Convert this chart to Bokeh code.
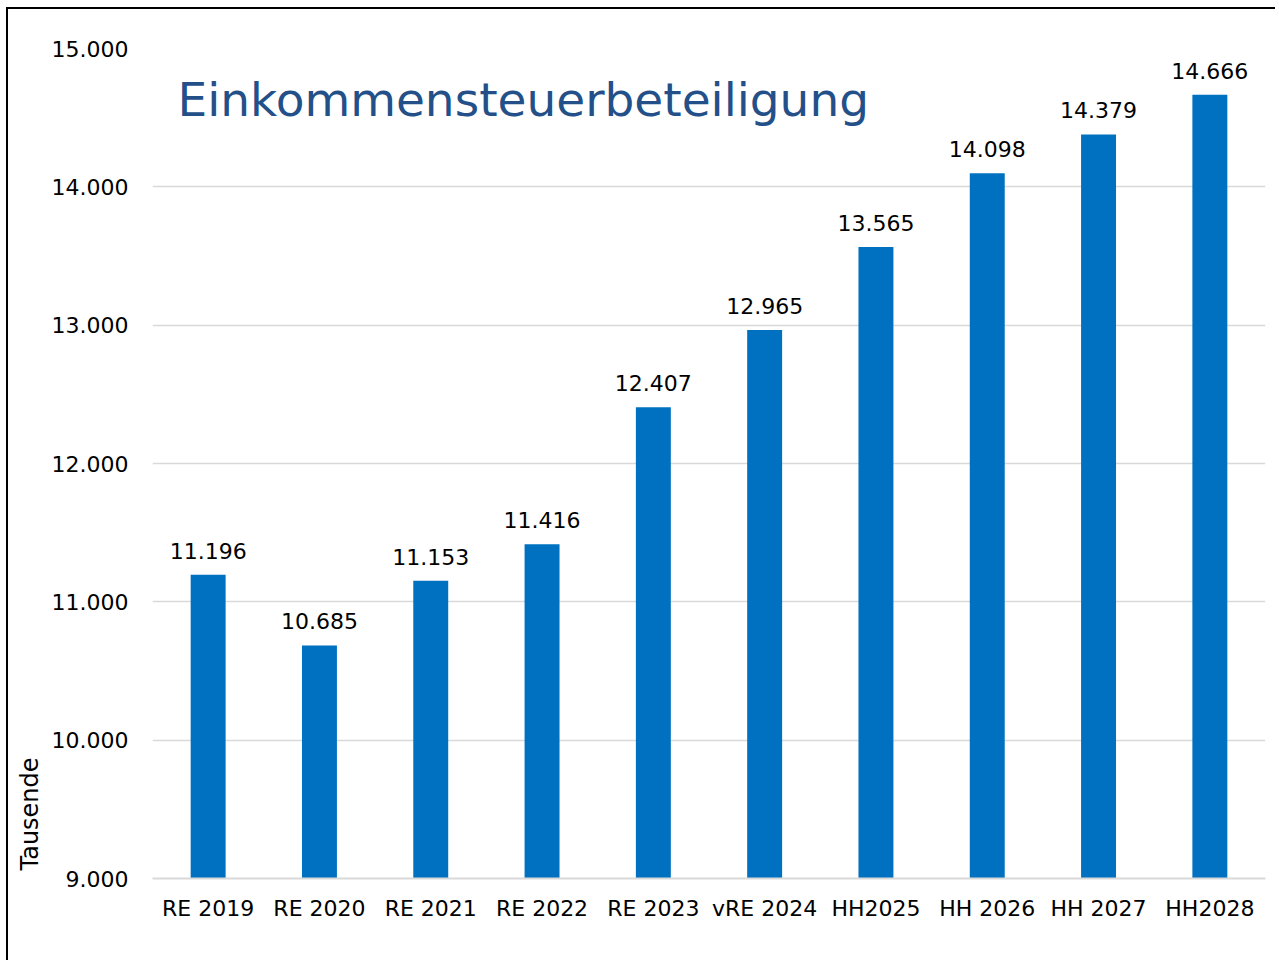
import math
from bokeh.plotting import figure
from bokeh.models import ColumnDataSource, LabelSet, Label, FixedTicker, Title
from bokeh.core.properties import value
from bokeh.embed import file_html
from bokeh.resources import INLINE

categories = ["RE 2019", "RE 2020", "RE 2021", "RE 2022", "RE 2023",
              "vRE 2024", "HH2025", "HH 2026", "HH 2027", "HH2028"]
values = [11196, 10685, 11153, 11416, 12407, 12965, 13565, 14098, 14379, 14666]
y_ticks = [9000, 10000, 11000, 12000, 13000, 14000, 15000]
y_tick_labels = ["9.000", "10.000", "11.000", "12.000", "13.000", "14.000", "15.000"]
title_text = "Einkommensteuerbeteiligung"
y_label_text = "Tausende"

FONT = "DejaVu Sans"
FS = "22px"

labels = [f"{v:,}".replace(",", ".") for v in values]
source = ColumnDataSource(data=dict(cat=categories, val=values, lab=labels))

p = figure(x_range=categories, y_range=(9000, 15000),
           width=1269, height=953,
           output_backend="svg", toolbar_location=None,
           min_border_left=144, min_border_right=12,
           min_border_top=39, min_border_bottom=84)
p.styles = {"border-left": "2px solid black", "border-top": "2px solid black",
            "margin-left": "6px", "margin-top": "7px"}
p.outline_line_color = None
p.background_fill_color = "white"
p.border_fill_color = "white"

p.vbar(x="cat", top="val", bottom=9000, width=0.314, source=source,
       fill_color="#0070C0", line_color=None)

# axes
p.yaxis.ticker = FixedTicker(ticks=y_ticks)
p.yaxis.major_label_overrides = {t: l for t, l in zip(y_ticks, y_tick_labels)}
p.yaxis.axis_line_color = None
p.yaxis.major_tick_line_color = None
p.yaxis.minor_tick_line_color = None
p.yaxis.major_label_text_font = FONT
p.yaxis.major_label_text_font_size = FS
p.yaxis.major_label_text_color = "#000000"
p.yaxis.major_label_standoff = 18

p.xaxis.axis_line_color = "#D9D9D9"
p.xaxis.axis_line_width = 2
p.xaxis.major_tick_line_color = None
p.xaxis.minor_tick_line_color = None
p.xaxis.major_label_text_font = FONT
p.xaxis.major_label_text_font_size = FS
p.xaxis.major_label_text_color = "#000000"
p.xaxis.major_label_standoff = 11

p.xgrid.grid_line_color = None
p.ygrid.grid_line_color = "#D9D9D9"
p.ygrid.grid_line_width = 1.5

# value labels
p.add_layout(LabelSet(x="cat", y="val", text="lab", source=source,
                      text_align="center", text_baseline="alphabetic",
                      y_offset=16, text_font=value(FONT), text_font_size=value(FS),
                      text_color="#000000"))

# title inside the plot
p.add_layout(Label(x=0.225, y=14633, text=title_text, text_font=FONT,
                   text_font_size="47px", text_color="#24508A",
                   text_baseline="alphabetic", text_align="left"))

# vertical axis label at the bottom of the left side
p.add_layout(Title(text=y_label_text, align="left", offset=8,
                   text_font=FONT, text_font_size="24px", text_color="#000000",
                   text_font_style="normal"), "left")

open("out.html", "w").write(file_html(p, INLINE))
